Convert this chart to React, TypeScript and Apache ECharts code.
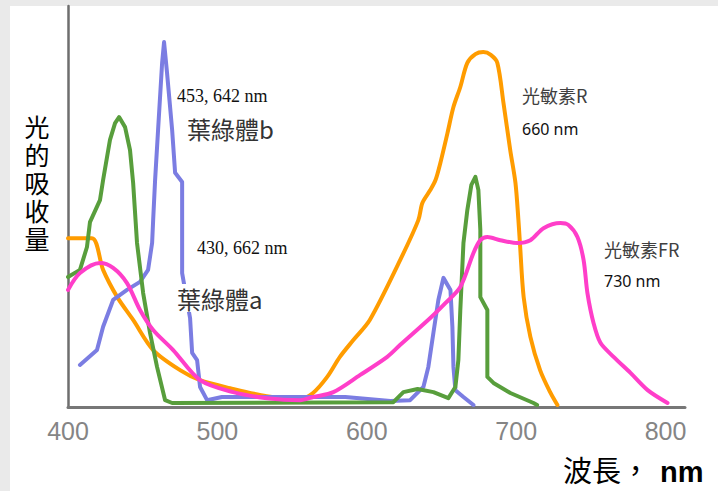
import React, { useEffect, useRef } from "react";
import * as echarts from "echarts";

// Wavelength (nm) vs relative absorbance (0-100)
const phytochromeR: [number, number][] = [
  [400, 42.1], [416, 42.1], [423.5, 34.2], [433, 27.4], [443.6, 21.7], [457, 14.2],
  [475, 9.2], [488.4, 6.7], [508.5, 4.7], [533, 2.7], [555, 2.0], [564, 3.5],
  [573.5, 7.5], [582, 12.5], [591, 16.7], [602, 21.7], [622.4, 36.7], [634.5, 46.6],
  [637.2, 50.9], [642.5, 54.1], [646, 56.6], [649.2, 60.8], [654, 68.3], [658, 74.8],
  [662.6, 79.8], [667.3, 85.8], [672.7, 88], [678, 88.5], [683, 87.8], [687.4, 85.8],
  [691.5, 75.8], [696, 64.1], [699.5, 55.9], [701.5, 46.6], [702.5, 40.9], [705, 27.4],
  [709.5, 17.5], [716, 9.2], [723, 3.5], [727.6, 0.5],
];

const chlorophyllA: [number, number][] = [
  [400, 32.4], [408, 34.2], [412.7, 39.9], [414.7, 46.1], [421.4, 51.6], [423.5, 56.6],
  [428.1, 66.6], [431.5, 70.8], [434.2, 72.3], [438.2, 69.8], [441.5, 64.1], [443.6, 55.9],
  [446.2, 40.9], [450.3, 28.4], [454.9, 18.5], [459.6, 10.0], [465, 1.7], [469.7, 1.0],
  [617.8, 1.2], [624.5, 3.7], [634, 4.5], [644.6, 3.7], [654.6, 2.2], [659.3, 5.0],
  [661.3, 11.7], [662.6, 24.2], [664.7, 40.9], [667.3, 49.1], [670, 55.4], [672.7, 57.4],
  [674.7, 54.1], [676, 44.1], [676, 27.4], [680.7, 24.2], [680.7, 7.5], [684.8, 6.0],
  [696.1, 3.5], [711.6, 1.0], [714, 0.5],
];

const chlorophyllB: [number, number][] = [
  [408, 10.5], [419.4, 14.2], [423.5, 20.0], [430.2, 26.7], [439.5, 29.2], [448.2, 31.2],
  [453.6, 34.2], [456.3, 40.9], [457, 46.6], [458.3, 56.6], [460.3, 69.1], [463, 85.8],
  [464.3, 91.0], [466.3, 83.3], [469.7, 69.1], [471.7, 58.4], [476.4, 56.1], [476.4, 33.4],
  [481.7, 22.2], [483.1, 13.5], [486.4, 11.7], [488.4, 5.0], [493.1, 1.7], [503, 2.5],
  [585.6, 2.5], [615.8, 1.5], [629, 1.7], [637.9, 5.0], [641.2, 10.0], [644.6, 18.5],
  [647.9, 26.7], [651.3, 32.2], [656, 29.2], [657.3, 20.0], [658, 10.0], [659.3, 4.2],
  [664.7, 2.5], [671.4, 0.5],
];

const phytochromeFR: [number, number][] = [
  [400, 29.2], [408, 33.4], [421.4, 35.9], [430.2, 34.7], [439.5, 30.9], [448.2, 24.2],
  [457, 19.2], [470.4, 14.2], [488.4, 6.7], [510.6, 3.7], [533.3, 2.2], [555.4, 1.7],
  [564.2, 2.5], [577.6, 3.7], [595.6, 8.0], [613.7, 12.5], [622.4, 15.5], [642.5, 22.2],
  [652.6, 25.9], [662.6, 29.9], [671.4, 38.4], [676, 41.6], [680.7, 42.4], [689.4, 41.6],
  [700.8, 40.9], [709.5, 41.6], [718.3, 44.6], [729.6, 45.9], [735, 45.4], [741, 42.4],
  [745.1, 36.7], [747.7, 28.4], [751.8, 20.9], [756.4, 16.0], [765.2, 12.5], [776.5, 8.5],
  [788, 4.2], [801.3, 1.0],
];

const xTicks = [400, 500, 600, 700, 800];
const yTitleChars = ["光", "的", "吸", "收", "量"];

const CJK = '"Noto Sans CJK TC", "Noto Sans CJK SC", sans-serif';
const CJK_TIGHT = '"Liberation Sans", "Noto Sans CJK TC", sans-serif';
const SERIF = '"Liberation Serif", "DejaVu Serif", serif';
const SANS = '"Noto Sans", "Liberation Sans", sans-serif';
const ARIAL = '"Liberation Sans", Arial, sans-serif';

export default function App() {
  const ref = useRef<HTMLDivElement>(null);

  useEffect(() => {
    if (!ref.current) return;
    const chart = echarts.init(ref.current, undefined, { renderer: "svg" });

    const lineSeries = (name: string, data: [number, number][], color: string, smooth: number | boolean, z: number) => ({
      name,
      type: "line",
      data,
      smooth,
      showSymbol: false,
      symbol: "none",
      z,
      lineStyle: { color, width: 4, cap: "round", join: "round" },
    });

    const txt = (text: string, x: number, y: number, fontSize: number, fontFamily: string, fill: string, extra: any = {}) => ({
      type: "text",
      x,
      y,
      z: 100,
      style: {
        text,
        fontSize,
        fontFamily,
        fill,
        align: "left",
        verticalAlign: "middle",
        ...extra,
      },
    });

    const yTitle = yTitleChars.map((c, i) =>
      txt(c, 37, 128 + i * 28, 25, CJK_TIGHT, "#000000", { align: "center" })
    );

    chart.setOption({
      animation: false,
      backgroundColor: "transparent",
      grid: { left: 68, right: 33, top: 6, bottom: 84 },
      xAxis: {
        type: "value",
        min: 400,
        max: 813,
        interval: 100,
        axisLine: { show: true, lineStyle: { color: "#777777", width: 3 } },
        axisTick: { show: false },
        splitLine: { show: false },
        axisLabel: {
          color: "#858585",
          fontSize: 25,
          fontFamily: ARIAL,
          margin: 11,
          formatter: (v: number) => (xTicks.includes(v) ? String(v) : ""),
        },
      },
      yAxis: {
        type: "value",
        min: 0,
        max: 100,
        axisLine: { show: true, lineStyle: { color: "#6e6e6e", width: 2.5 } },
        axisTick: { show: false },
        splitLine: { show: false },
        axisLabel: { show: false },
      },
      series: [
        lineSeries("光敏素R", phytochromeR, "#ff9c00", 0.3, 2),
        lineSeries("葉綠體b", chlorophyllB, "#7b7de2", false, 3),
        lineSeries("葉綠體a", chlorophyllA, "#589e3c", false, 4),
        lineSeries("光敏素FR", phytochromeFR, "#ff3ec9", 0.3, 5),
      ],
      graphic: [
        txt("453, 642 nm", 177, 96, 18, SERIF, "#111111"),
        txt("葉綠體b", 187, 128, 24, CJK, "#333333"),
        txt("430, 662 nm", 197, 248, 18, SERIF, "#111111"),
        txt("葉綠體a", 173, 298, 24, CJK, "#333333", {
          backgroundColor: "#ffffff",
          padding: [2, 2, 2, 4],
        }),
        txt("光敏素R", 522, 95, 18, CJK, "#404040"),
        txt("660 nm", 522, 129, 16, SANS, "#111111"),
        txt("光敏素FR", 604, 249, 18, CJK, "#404040"),
        txt("730 nm", 604, 281, 16, SANS, "#111111"),
        ...yTitle,
        txt("波長，", 563, 469, 29, CJK, "#000000"),
        txt("nm", 660, 472, 29, ARIAL, "#000000", { fontWeight: "bold" }),
      ],
    });

    return () => chart.dispose();
  }, []);

  return (
    <div style={{ position: "absolute", left: 0, top: 0, width: 718, height: 491, background: "#eaeaea", overflow: "hidden" }}>
      <div style={{ position: "absolute", left: 10, top: 6, width: 708, height: 485, background: "#ffffff" }} />
      <div ref={ref} style={{ position: "absolute", left: 0, top: 0, width: 718, height: 491 }} />
    </div>
  );
}
